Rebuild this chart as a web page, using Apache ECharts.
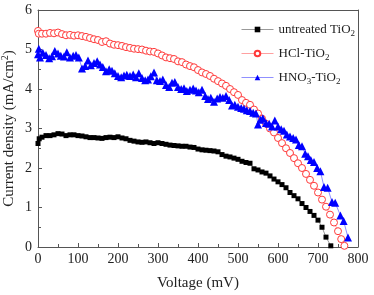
<!DOCTYPE html>
<html>
<head>
<meta charset="utf-8">
<script src="https://cdn.jsdelivr.net/npm/echarts@6/dist/echarts.min.js"></script>
<style>
  html, body { margin: 0; padding: 0; background: #fff; }
  #chart { width: 374px; height: 295px; }
</style>
</head>
<body>
<div id="chart"></div>
<script>
// J-V curves, [voltage mV, current density mA/cm2]
const untreated = [[0,2.62],[3,2.74],[10,2.78],[20,2.82],[30,2.82],[40,2.84],[50,2.87],[60,2.86],[70,2.82],[80,2.84],[90,2.84],[100,2.82],[110,2.81],[120,2.79],[130,2.77],[140,2.77],[150,2.76],[160,2.75],[170,2.77],[180,2.78],[190,2.77],[200,2.79],[210,2.76],[220,2.74],[230,2.70],[240,2.68],[250,2.66],[260,2.65],[270,2.66],[280,2.64],[290,2.62],[300,2.64],[310,2.62],[320,2.60],[330,2.58],[340,2.57],[350,2.56],[360,2.55],[370,2.55],[380,2.53],[390,2.52],[400,2.48],[410,2.46],[420,2.45],[430,2.44],[440,2.43],[450,2.41],[460,2.34],[470,2.30],[480,2.28],[490,2.25],[500,2.22],[510,2.17],[520,2.14],[530,2.12],[540,1.98],[550,1.95],[560,1.90],[570,1.87],[580,1.80],[590,1.72],[600,1.65],[610,1.58],[620,1.50],[630,1.38],[640,1.30],[650,1.22],[660,1.10],[670,1.00],[680,0.90],[690,0.80],[700,0.68],[710,0.50],[720,0.25],[732,0.03]]

const hcl = [[0,5.47],[2,5.40],[10,5.40],[20,5.40],[30,5.42],[40,5.41],[50,5.43],[60,5.39],[70,5.36],[80,5.37],[90,5.35],[100,5.36],[110,5.34],[120,5.32],[130,5.29],[140,5.26],[150,5.24],[160,5.19],[170,5.21],[180,5.15],[190,5.12],[200,5.11],[210,5.09],[220,5.06],[230,5.04],[240,5.02],[250,5.01],[260,5.00],[270,4.97],[280,4.95],[290,4.94],[300,4.90],[310,4.85],[320,4.80],[330,4.78],[340,4.76],[350,4.70],[360,4.68],[370,4.62],[380,4.58],[390,4.55],[400,4.48],[410,4.42],[420,4.38],[430,4.33],[440,4.26],[450,4.20],[460,4.14],[470,4.08],[480,4.00],[490,3.92],[500,3.85],[510,3.72],[520,3.65],[530,3.60],[540,3.48],[550,3.38],[560,3.25],[570,3.12],[580,3.00],[590,2.90],[600,2.76],[610,2.63],[620,2.50],[630,2.38],[640,2.25],[650,2.12],[660,2.00],[670,1.85],[680,1.70],[690,1.55],[700,1.38],[710,1.20],[720,1.02],[730,0.82],[740,0.62],[750,0.40],[758,0.20],[766,0.03]]

const hno3 = [[0,4.88],[2,5.02],[5,4.80],[12,4.92],[20,4.86],[28,4.78],[35,4.83],[42,4.96],[50,4.90],[57,4.84],[65,4.82],[72,4.93],[80,4.80],[88,4.84],[95,4.86],[102,4.80],[110,4.52],[118,4.58],[125,4.72],[132,4.60],[140,4.66],[148,4.70],[155,4.62],[162,4.56],[170,4.45],[178,4.50],[185,4.46],[192,4.40],[200,4.33],[208,4.30],[215,4.34],[222,4.36],[230,4.33],[238,4.37],[245,4.30],[252,4.40],[260,4.28],[268,4.22],[275,4.24],[282,4.32],[290,4.42],[297,4.22],[305,4.20],[312,4.24],[320,4.10],[328,4.05],[335,4.16],[342,4.18],[350,4.05],[358,4.00],[365,4.02],[372,3.95],[380,3.98],[388,4.01],[395,3.96],[402,3.92],[410,3.98],[418,3.82],[425,3.75],[432,3.78],[440,3.68],[448,3.76],[455,3.80],[462,3.78],[470,3.82],[478,3.72],[485,3.58],[492,3.60],[500,3.55],[508,3.52],[515,3.50],[522,3.46],[530,3.44],[538,3.40],[545,3.38],[550,3.10],[556,3.22],[562,3.26],[570,3.14],[578,3.12],[585,3.05],[592,3.20],[600,3.05],[608,2.98],[615,2.94],[622,2.85],[630,2.80],[638,2.76],[645,2.72],[652,2.58],[660,2.55],[668,2.36],[675,2.30],[682,2.20],[690,2.15],[698,2.00],[706,1.92],[715,1.52],[724,1.50],[735,1.14],[743,1.12],[756,0.80],[764,0.66],[775,0.24]]

const seriesNames = ['untreated TiO2', 'HCl-TiO2', 'HNO3-TiO2']
// rich-text versions with subscripts
const legendLabels = {
  'untreated TiO2': '{n|untreated TiO}{s|2}',
  'HCl-TiO2': '{n|HCl-TiO}{s|2}',
  'HNO3-TiO2': '{n|HNO}{s|3}{n|-TiO}{s|2}'
}

const serif = '"Liberation Serif", "Times New Roman", serif'

let chart = echarts.init(document.getElementById('chart'))
chart.setOption({
  animation: false,
  backgroundColor: '#fff',
  grid: {
    left: 38,
    right: 16,
    top: 10,
    bottom: 48,
    containLabel: false,
    outerBoundsMode: 'none'
  },
  legend: {
    orient: 'vertical',
    left: 236,
    top: 16,
    itemWidth: 32,
    itemHeight: 7,
    itemGap: 7,
    data: seriesNames,
    lineStyle: {width: 1},
    formatter: function (name) {
      return legendLabels[name]
    },
    textStyle: {
      fontFamily: serif,
      color: '#222',
      rich: {
        n: {fontSize: 13, fontFamily: serif, color: '#222', lineHeight: 16},
        s: {fontSize: 9, fontFamily: serif, color: '#222', lineHeight: 16, padding: [8, 0, 0, 0]}
      }
    }
  },
  xAxis: [
    {
      type: 'value',
      min: 0,
      max: 800,
      interval: 100,
      name: 'Voltage (mV)',
      nameLocation: 'middle',
      nameGap: 29,
      nameMoveOverlap: false,
      nameTextStyle: {fontFamily: serif, fontSize: 15, color: '#222'},
      axisLine: {show: true, lineStyle: {color: '#555', width: 1}},
      axisTick: {show: true, inside: true, length: 4, lineStyle: {color: '#555'}},
      minorTick: {show: true, splitNumber: 2, length: 3, lineStyle: {color: '#555'}},
      axisLabel: {fontFamily: serif, fontSize: 14, color: '#222', margin: 5},
      splitLine: {show: false}
    },
    {
      type: 'value',
      position: 'top',
      min: 0,
      max: 800,
      axisLine: {show: true, onZero: false, lineStyle: {color: '#555', width: 1}},
      axisTick: {show: false},
      axisLabel: {show: false},
      splitLine: {show: false}
    }
  ],
  yAxis: [
    {
      type: 'value',
      min: 0,
      max: 6,
      interval: 1,
      name: '{t|Current density (mA/cm}{p|2}{t|)}',
      nameLocation: 'middle',
      nameGap: 21,
      nameMoveOverlap: false,
      nameRotate: 90,
      nameTextStyle: {
        fontFamily: serif,
        fontSize: 15,
        color: '#222',
        rich: {
          t: {fontFamily: serif, fontSize: 15, color: '#222', lineHeight: 16},
          p: {fontFamily: serif, fontSize: 10, color: '#222', lineHeight: 16, padding: [0, 0, 8, 0]}
        }
      },
      axisLine: {show: true, lineStyle: {color: '#555', width: 1}},
      axisTick: {show: true, inside: true, length: 4, lineStyle: {color: '#555'}},
      minorTick: {show: true, splitNumber: 2, length: 3, lineStyle: {color: '#555'}},
      axisLabel: {fontFamily: serif, fontSize: 14, color: '#222', margin: 6},
      splitLine: {show: false}
    },
    {
      type: 'value',
      position: 'right',
      min: 0,
      max: 6,
      axisLine: {show: true, onZero: false, lineStyle: {color: '#555', width: 1}},
      axisTick: {show: false},
      axisLabel: {show: false},
      splitLine: {show: false}
    }
  ],
  series: [
    {
      name: 'untreated TiO2',
      type: 'line',
      data: untreated,
      symbol: 'rect',
      symbolSize: 5,
      showAllSymbol: true,
      color: '#000',
      lineStyle: {color: '#999', width: 1},
      itemStyle: {color: '#000'}
    },
    {
      name: 'HCl-TiO2',
      type: 'line',
      data: hcl,
      symbol: 'circle',
      symbolSize: 7,
      showAllSymbol: true,
      color: '#ff3030',
      lineStyle: {color: '#ffa0a0', width: 1},
      itemStyle: {color: '#fff', borderColor: '#ff3a3a', borderWidth: 1}
    },
    {
      name: 'HNO3-TiO2',
      type: 'line',
      data: hno3,
      symbol: 'triangle',
      symbolSize: 8,
      showAllSymbol: true,
      color: '#0000ff',
      lineStyle: {color: '#9090ff', width: 1},
      itemStyle: {color: '#0000ff'}
    }
  ]
})
</script>
</body>
</html>
